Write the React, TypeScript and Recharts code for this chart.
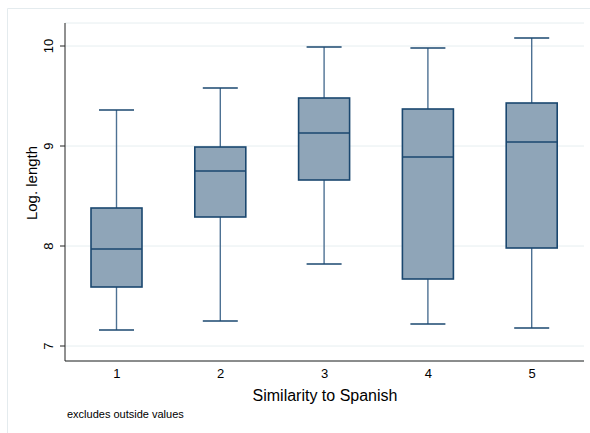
import { ComposedChart, Bar, XAxis, YAxis, CartesianGrid } from 'recharts'

const categories = ['1', '2', '3', '4', '5']
const lowerWhisker = [7.16, 7.25, 7.82, 7.22, 7.18]
const q1 = [7.59, 8.29, 8.66, 7.67, 7.98]
const median = [7.97, 8.75, 9.13, 8.89, 9.04]
const q3 = [8.38, 8.99, 9.48, 9.37, 9.43]
const upperWhisker = [9.36, 9.58, 9.99, 9.98, 10.08]
const yTicks = [7, 8, 9, 10]

const FONT = '"Liberation Sans", Arial, Helvetica, sans-serif'
const NAVY = '#1a476f'
const FRAME = '#e4ebee'

const data = categories.map((c, i) => ({
  cat: c,
  low: lowerWhisker[i],
  q1: q1[i],
  med: median[i],
  q3: q3[i],
  high: upperWhisker[i],
}))

// box + whiskers drawn from the [low, high] range rect the Bar gives us
function BoxShape(props: any) {
  const { x, y, width, height, payload } = props
  if (!payload) return null
  const top = Math.min(y, y + height)
  const h = Math.abs(height)
  const span = payload.high - payload.low
  const pix = (v: number) => top + (h * (payload.high - v)) / span
  const cx = x + width / 2
  const cap = 35
  const yHigh = pix(payload.high)
  const yQ3 = pix(payload.q3)
  const yMed = pix(payload.med)
  const yQ1 = pix(payload.q1)
  const yLow = pix(payload.low)
  return (
    <g>
      <line x1={cx} x2={cx} y1={yHigh} y2={yQ3} stroke="#4d7193" strokeWidth={1.4} />
      <line x1={cx} x2={cx} y1={yQ1} y2={yLow} stroke="#4d7193" strokeWidth={1.4} />
      <line x1={cx - cap / 2} x2={cx + cap / 2} y1={yHigh} y2={yHigh} stroke={NAVY} strokeWidth={1.3} />
      <line x1={cx - cap / 2} x2={cx + cap / 2} y1={yLow} y2={yLow} stroke={NAVY} strokeWidth={1.3} />
      <rect x={x} y={yQ3} width={width} height={yQ1 - yQ3} fill="#8fa5b8" stroke={NAVY} strokeWidth={1.6} />
      <line x1={x} x2={x + width} y1={yMed} y2={yMed} stroke={NAVY} strokeWidth={1.6} />
    </g>
  )
}

function YTick(props: any) {
  const { y, payload } = props
  return (
    <text
      x={53}
      y={y}
      transform={`rotate(-90 53 ${y})`}
      textAnchor="middle"
      fontSize={13}
      fontFamily={FONT}
      fill="#000"
    >
      {payload.value}
    </text>
  )
}

export default function App() {
  return (
    <div
      style={{
        position: 'absolute', left: 0, top: 0, width: 590, height: 433,
        overflow: 'hidden', background: '#fff', fontFamily: FONT,
      }}
    >
      {/* outer graph region frame, only its left and top edges are in view */}
      <svg width={590} height={433} style={{ position: 'absolute', left: 0, top: 0 }}>
        <path d="M7.5 433 V8.5 H590" fill="none" stroke={FRAME} strokeWidth={1} />
      </svg>
      <div style={{ position: 'absolute', left: 0, top: 0 }}>
        <ComposedChart
          width={590}
          height={433}
          data={data}
          margin={{ top: 23, right: 6, left: 0, bottom: 32 }}
        >
          <CartesianGrid vertical={false} horizontal stroke="#e6eef0" />
          <XAxis
            dataKey="cat"
            height={40}
            tickLine={false}
            axisLine={{ stroke: '#222' }}
            tick={{ fill: '#000', fontSize: 13, fontFamily: FONT }}
            label={{
              content: () => (
                <text x={325} y={401} textAnchor="middle" fontSize={16} fontFamily={FONT} fill="#000">
                  Similarity to Spanish
                </text>
              ),
            }}
          />
          <YAxis
            width={65}
            domain={[6.85, 10.23]}
            ticks={yTicks}
            tickSize={5}
            axisLine={{ stroke: '#222' }}
            tickLine={{ stroke: '#222' }}
            tick={<YTick />}
            label={{
              content: () => (
                <text
                  x={37}
                  y={183}
                  transform="rotate(-90 37 183)"
                  textAnchor="middle"
                  fontSize={15}
                  fontFamily={FONT}
                  fill="#000"
                >
                  Log. length
                </text>
              ),
            }}
          />
          <Bar
            dataKey={(d: any) => [d.low, d.high]}
            barSize={51}
            shape={<BoxShape />}
            isAnimationActive={false}
          />
        </ComposedChart>
      </div>
      <div
        style={{
          position: 'absolute', left: 67, top: 408, fontSize: 11, color: '#000',
          whiteSpace: 'nowrap',
        }}
      >
        excludes outside values
      </div>
    </div>
  )
}
